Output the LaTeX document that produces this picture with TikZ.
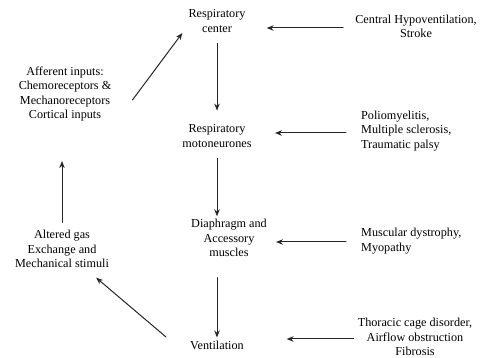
\documentclass[tikz,border=0pt]{standalone}
\usepackage{fontspec}
\setmainfont{Liberation Serif}
\usetikzlibrary{arrows.meta}
\tikzset{
  lbl/.style={align=center, inner sep=1pt, font=\fontsize{12.2}{14.2}\selectfont},
  lbll/.style={lbl, align=left, anchor=west},
  arr/.style={-{Stealth[length=7pt,width=5.5pt]}, line width=1pt, draw=black!85}
}
\begin{document}
\begin{tikzpicture}[x=1pt, y=-1pt, line cap=round, line join=round]
  \useasboundingbox (0,0) rectangle (480,358);
  % main chain
  \node[lbl] (center) at (217,21) {Respiratory\\center};
  \node[lbl] (motoneurones) at (217,136) {Respiratory\\motoneurones};
  \node[lbl] (muscles) at (229,238) {Diaphragm and\\Accessory\\muscles};
  \node[lbl] (ventilation) at (217,345) {Ventilation};
  % feedback loop
  \node[lbl] (altered) at (62,249) {Altered gas\\Exchange and\\Mechanical stimuli};
  \node[lbl] (afferent) at (65,94) {Afferent inputs:\\Chemoreceptors \&\\Mechanoreceptors\\Cortical inputs};
  % disorders
  \node[lbl] (hypo) at (416,26) {Central Hypoventilation,\\Stroke};
  \node[lbll] (polio) at (360,131) {Poliomyelitis,\\Multiple sclerosis,\\Traumatic palsy};
  \node[lbll] (dystrophy) at (360,241) {Muscular dystrophy,\\Myopathy};
  \node[lbl] (thoracic) at (415,337) {Thoracic cage disorder,\\Airflow obstruction\\Fibrosis};
  % down arrows
  \draw[arr] ([yshift=-10pt]center.south) -- ([yshift=13pt]motoneurones.north);
  \draw[arr] ([yshift=-10pt]motoneurones.south) -- ([yshift=2pt]muscles.north -| motoneurones);
  \draw[arr] ([yshift=-20pt]muscles.south -| motoneurones) -- ([yshift=2pt]ventilation.north);
  % loop arrows
  \draw[arr] ([xshift=-23pt,yshift=8pt]ventilation.west) -- ([xshift=-14pt,yshift=-9pt]altered.south east);
  \draw[arr] ([yshift=7pt]altered.north) -- ([yshift=-39pt]afferent.south -| altered);
  \draw[arr] ([xshift=20pt,yshift=-6pt]afferent.east) -- ([xshift=-5pt,yshift=-12pt]center.west);
  % disorder arrows
  \draw[arr] ([xshift=-11pt,yshift=-2pt]hypo.west) -- ([xshift=20pt,yshift=-2pt]center.east |- hypo.west);
  \draw[arr] ([xshift=-14pt,yshift=-2pt]polio.west) -- ([xshift=-85pt,yshift=-2pt]polio.west);
  \draw[arr] ([xshift=-14pt,yshift=-1pt]dystrophy.west) -- ([xshift=-84pt,yshift=-1pt]dystrophy.west);
  \draw[arr] ([xshift=-3pt,yshift=-2pt]thoracic.west) -- ([xshift=-70pt,yshift=-2pt]thoracic.west);
\end{tikzpicture}
\end{document}
